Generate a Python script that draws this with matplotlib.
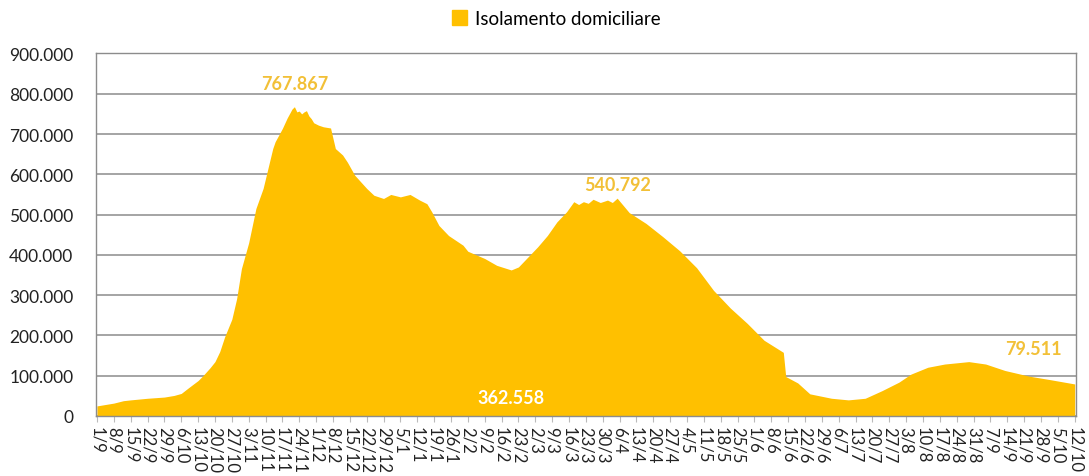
import numpy as np
import pandas as pd
import matplotlib
matplotlib.use('Agg')
import matplotlib.pyplot as plt
from matplotlib.ticker import FuncFormatter
from matplotlib.patches import Patch

plt.rcParams['font.family'] = ['Lato', 'DejaVu Sans']

# 데이터: isolamento domiciliare
dates = ['2020-09-01', '2020-09-08', '2020-09-12', '2020-09-15', '2020-09-22', '2020-09-29',
         '2020-10-03', '2020-10-06', '2020-10-09', '2020-10-13', '2020-10-15', '2020-10-18',
         '2020-10-20', '2020-10-22', '2020-10-24', '2020-10-27', '2020-10-29', '2020-10-31',
         '2020-11-03', '2020-11-06', '2020-11-09', '2020-11-13', '2020-11-14', '2020-11-17',
         '2020-11-19', '2020-11-21', '2020-11-22',
         '2020-11-23', '2020-11-24', '2020-11-25', '2020-11-26', '2020-11-27', '2020-11-28',
         '2020-11-29', '2020-11-30', '2020-12-02', '2020-12-04', '2020-12-07', '2020-12-09',
         '2020-12-12', '2020-12-14', '2020-12-17', '2020-12-22', '2020-12-25',
         '2020-12-29', '2021-01-01', '2021-01-05', '2021-01-09', '2021-01-13',
         '2021-01-16', '2021-01-18', '2021-01-21', '2021-01-25', '2021-01-31', '2021-02-02',
         '2021-02-09', '2021-02-14', '2021-02-20', '2021-02-23', '2021-02-27', '2021-03-03',
         '2021-03-07', '2021-03-11', '2021-03-15', '2021-03-18', '2021-03-20', '2021-03-22',
         '2021-03-24', '2021-03-26', '2021-03-29', '2021-04-01', '2021-04-03', '2021-04-05',
         '2021-04-10', '2021-04-17', '2021-04-24', '2021-05-01', '2021-05-08', '2021-05-15',
         '2021-05-22', '2021-05-29', '2021-06-05', '2021-06-13', '2021-06-14', '2021-06-19',
         '2021-06-24', '2021-07-03', '2021-07-10', '2021-07-17', '2021-07-24', '2021-07-31',
         '2021-08-05', '2021-08-12', '2021-08-19', '2021-08-29', '2021-09-05', '2021-09-13',
         '2021-09-23', '2021-10-02', '2021-10-12']
values = [25000, 32000, 38000, 40000, 44000, 47000,
          51000, 56000, 70000, 88000, 100000, 120000,
          135000, 160000, 196000, 240000, 291000, 366000,
          430000, 515000, 565000, 664000, 681000, 714000,
          740000, 762000, 767867,
          755000, 757000, 750000, 755000, 758000, 745000,
          738000, 728000, 722000, 718000, 715000, 664000,
          648000, 630000, 598000, 565000, 548000,
          540000, 550000, 544000, 550000, 536000,
          527000, 507000, 473000, 448000, 424000, 409000,
          391000, 374000, 362558, 370000, 395000, 420000,
          448000, 482000, 507000, 532000, 525000, 532000,
          528000, 538000, 530000, 536000, 530000, 540792,
          505000, 478000, 445000, 410000, 368000, 312000,
          268000, 230000, 188000, 158000, 98000, 82000,
          55000, 44000, 40000, 44000, 63000, 84000,
          104000, 121000, 129000, 135000, 129000, 113000,
          99000, 90000, 79511]

tick_labels = ['1/9', '8/9', '15/9', '22/9', '29/9', '6/10', '13/10', '20/10', '27/10',
               '3/11', '10/11', '17/11', '24/11', '1/12', '8/12', '15/12', '22/12', '29/12',
               '5/1', '12/1', '19/1', '26/1', '2/2', '9/2', '16/2', '23/2', '2/3', '9/3',
               '16/3', '23/3', '30/3', '6/4', '13/4', '20/4', '27/4', '4/5', '11/5', '18/5',
               '25/5', '1/6', '8/6', '15/6', '22/6', '29/6', '6/7', '13/7', '20/7', '27/7',
               '3/8', '10/8', '17/8', '24/8', '31/8', '7/9', '14/9', '21/9', '28/9', '5/10',
               '12/10']

label_dates = ['2020-11-22', '2021-02-20', '2021-04-05', '2021-09-25']
label_texts = ['767.867', '362.558', '540.792', '79.511']
label_y = [826000, 47000, 575000, 167000]

gold = '#FFC000'
grid_c = '#8C8C8C'

start = pd.Timestamp('2020-09-01')
x = (pd.to_datetime(dates) - start).days.values
y = np.array(values)

fig = plt.figure(figsize=(10.89, 4.77), dpi=100)
ax = fig.add_axes([0.0879, 0.1258, 0.9001, 0.760])

ax.fill_between(x, y, 0, color=gold, lw=0, zorder=2)

ax.set_xlim(-0.5, 406.5)
ax.set_ylim(0, 900000)
ax.set_yticks(np.arange(0, 900001, 100000))
ax.yaxis.set_major_formatter(FuncFormatter(lambda v, p: '0' if v == 0 else f'{int(v):,}'.replace(',', '.')))
ax.grid(axis='y', color=grid_c, lw=1.1, zorder=1)
ax.set_xticks(np.arange(len(tick_labels)) * 7)
ax.set_xticklabels(tick_labels, rotation=-90, va='top', ha='center', fontsize=12, color='#222222')
ax.tick_params(axis='x', length=4, color='#BBBBBB', pad=3)
ax.tick_params(axis='y', length=0, labelsize=12.5, labelcolor='#222222', pad=16)
for s in ax.spines.values():
    s.set_color(grid_c)
    s.set_linewidth(1.0)

# etichette dei valori
lx = (pd.to_datetime(label_dates) - start).days.values
for i in range(len(label_texts)):
    c = 'white' if i == 1 else '#F2C037'
    ax.text(lx[i], label_y[i], label_texts[i], color=c, fontsize=13, fontweight='bold',
            ha='center', va='center', zorder=3)

fig.legend(handles=[Patch(color=gold, label='Isolamento domiciliare')], loc='center',
           bbox_to_anchor=(0.5106, 0.96), frameon=False, fontsize=13.5,
           handlelength=0.85, handleheight=0.85, handletextpad=0.4)

fig.savefig('out.png', dpi=100)
